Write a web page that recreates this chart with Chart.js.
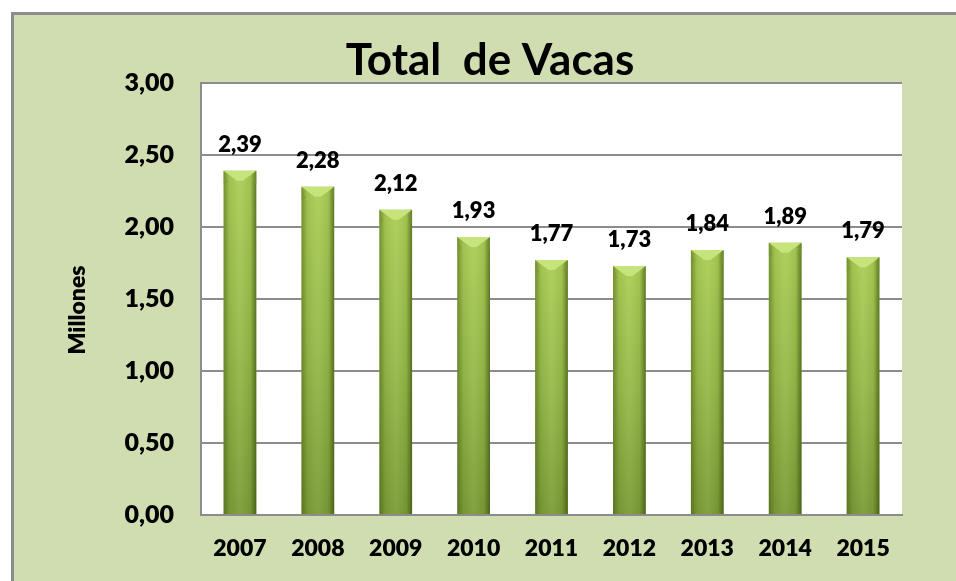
<!DOCTYPE html>
<html>
<head>
<meta charset="utf-8">
<script src="https://cdn.jsdelivr.net/npm/chart.js@4/dist/chart.umd.min.js"></script>
<style>
  html, body { margin: 0; padding: 0; width: 956px; height: 581px; overflow: hidden; background: #ffffff; }
  #frame { position: absolute; left: 11px; top: 12px; width: 1000px; height: 700px;
           background: #cfddb1; border-left: 3px solid #8c8c8c; border-top: 3px solid #8c8c8c; }
  #c { position: absolute; left: 0; top: 0; }
</style>
</head>
<body>
<div id="frame"></div>
<canvas id="c" width="956" height="581"></canvas>
<script>
// ---- data ----
const categories = ['2007', '2008', '2009', '2010', '2011', '2012', '2013', '2014', '2015'];
const vacas = [2.39, 2.28, 2.12, 1.93, 1.77, 1.73, 1.84, 1.89, 1.79];
const yTickValues = [0, 0.5, 1, 1.5, 2, 2.5, 3];
const yTickLabels = ['0,00', '0,50', '1,00', '1,50', '2,00', '2,50', '3,00'];
const chartTitle = 'Total  de Vacas';
const yAxisTitle = 'Millones';

const FONT = 'Lato, "Open Sans", "DejaVu Sans", sans-serif';
const W = '800';
const fmt = v => v.toFixed(2).replace('.', ',');

function barFill(ctx) {
  const chart = ctx.chart;
  const ys = chart.scales.y;
  if (!ys || !chart.chartArea) return '#9bbb59';
  const top = ys.getPixelForValue(ctx.raw);
  const bottom = ys.getPixelForValue(0);
  if (!isFinite(top) || !isFinite(bottom) || bottom - top < 1) return '#9bbb59';
  const g = chart.ctx.createLinearGradient(0, top, 0, bottom);
  g.addColorStop(0, '#abcd55');
  g.addColorStop(0.5, '#96b948');
  g.addColorStop(1, '#7a9a36');
  return g;
}

const backgroundPlugin = {
  id: 'plotBg',
  beforeDraw(chart) {
    const { ctx, chartArea: a } = chart;
    ctx.save();
    ctx.fillStyle = '#ffffff';
    ctx.fillRect(a.left, a.top, a.right - a.left, a.bottom - a.top);
    ctx.restore();
  }
};

const barDecorPlugin = {
  id: 'barDecor',
  afterDatasetsDraw(chart) {
    const ctx = chart.ctx;
    const meta = chart.getDatasetMeta(0);
    meta.data.forEach((el, i) => {
      const { x, y, base, width } = el.getProps(['x', 'y', 'base', 'width'], true);
      const l = x - width / 2, r = x + width / 2;
      ctx.save();
      const g = ctx.createLinearGradient(l, 0, r, 0);
      g.addColorStop(0, 'rgba(50,70,10,0.45)');
      g.addColorStop(0.18, 'rgba(50,70,10,0.08)');
      g.addColorStop(0.5, 'rgba(255,255,255,0.06)');
      g.addColorStop(0.82, 'rgba(50,70,10,0.08)');
      g.addColorStop(1, 'rgba(40,60,5,0.6)');
      ctx.fillStyle = g;
      ctx.fillRect(l, y, width, base - y);
      const bh = 10;
      ctx.beginPath();
      ctx.moveTo(l, y);
      ctx.lineTo(r, y);
      ctx.lineTo(x + 3, y + bh);
      ctx.lineTo(x - 3, y + bh);
      ctx.closePath();
      ctx.fillStyle = '#c7e37c';
      ctx.fill();
      ctx.beginPath();
      ctx.moveTo(l, y); ctx.lineTo(l + 4, y + bh + 2); ctx.lineTo(l, y + bh + 4); ctx.closePath();
      ctx.fillStyle = 'rgba(120,150,50,0.5)';
      ctx.fill();
      ctx.beginPath();
      ctx.moveTo(r, y); ctx.lineTo(r - 4, y + bh + 2); ctx.lineTo(r, y + bh + 4); ctx.closePath();
      ctx.fill();
      ctx.restore();

      ctx.save();
      ctx.font = W + ' 22px ' + FONT;
      ctx.fillStyle = '#000000';
      ctx.textAlign = 'center';
      ctx.textBaseline = 'middle';
      ctx.fillText(fmt(vacas[i]), x, y - 26);
      ctx.restore();
    });
  }
};

const yTitlePlugin = {
  id: 'yTitle',
  afterDraw(chart) {
    const ctx = chart.ctx;
    ctx.save();
    ctx.translate(78, 310);
    ctx.rotate(-Math.PI / 2);
    ctx.font = W + ' 23px ' + FONT;
    ctx.fillStyle = '#000000';
    ctx.textAlign = 'center';
    ctx.textBaseline = 'middle';
    ctx.fillText(yAxisTitle, 0, 0);
    ctx.restore();
  }
};

function build() {
  new Chart(document.getElementById('c'), {
    type: 'bar',
    data: {
      labels: categories,
      datasets: [{
        data: vacas,
        backgroundColor: barFill,
        borderWidth: 0,
        barPercentage: 0.42,
        categoryPercentage: 1.0
      }]
    },
    options: {
      responsive: false,
      animation: false,
      devicePixelRatio: 1,
      events: [],
      layout: { padding: { left: 78, right: 54, top: 0, bottom: 0 } },
      plugins: {
        legend: { display: false },
        tooltip: { enabled: false },
        title: {
          display: true,
          text: chartTitle,
          color: '#000000',
          font: { family: FONT, size: 44, weight: 'bold', lineHeight: 1 },
          padding: { top: 39, bottom: 0 }
        }
      },
      scales: {
        x: {
          grid: { display: true, color: 'rgba(0,0,0,0)', drawTicks: false },
          border: { display: true, color: '#8c8c8c', width: 2 },
          ticks: {
            color: '#000000',
            font: { family: FONT, size: 23, weight: W },
            padding: 20,
            maxRotation: 0,
            autoSkip: false
          },
          afterFit(s) { s.height = 66; }
        },
        y: {
          min: 0,
          max: 3,
          afterBuildTicks(s) { s.ticks = yTickValues.map(v => ({ value: v })); },
          grid: { color: '#8c8c8c', lineWidth: 2, drawTicks: false },
          border: { display: true, color: '#8c8c8c', width: 2 },
          ticks: {
            color: '#000000',
            font: { family: FONT, size: 25, weight: W },
            padding: 27,
            callback: (v) => { const i = yTickValues.indexOf(v); return i >= 0 ? yTickLabels[i] : fmt(v); }
          },
          afterFit(s) { s.width = 123; }
        }
      }
    },
    plugins: [backgroundPlugin, barDecorPlugin, yTitlePlugin]
  });
}

if (document.fonts && document.fonts.load) {
  Promise.all([
    document.fonts.load('800 22px Lato'),
    document.fonts.load('bold 44px Lato')
  ]).then(build, build);
} else {
  build();
}
</script>
</body>
</html>
